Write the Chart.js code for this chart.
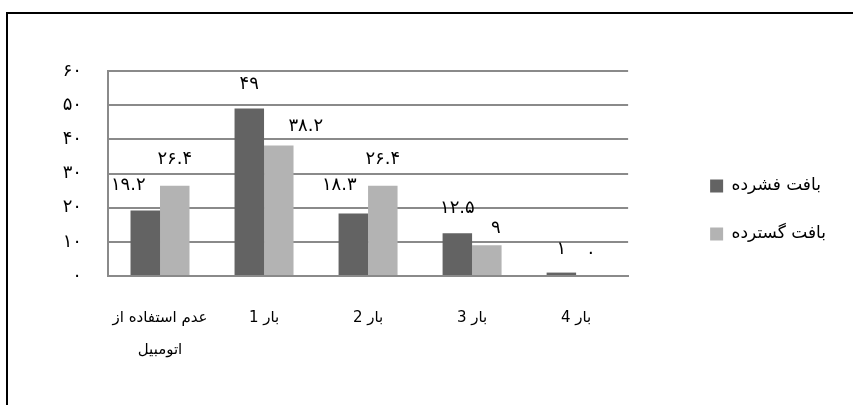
<!DOCTYPE html>
<html>
<head>
<meta charset="utf-8">
<script src="https://cdn.jsdelivr.net/npm/chart.js@4/dist/chart.umd.min.js"></script>
<style>
  html, body { margin: 0; padding: 0; background: #fff; }
  #wrap { position: relative; width: 853px; height: 405px; overflow: hidden; }
  #wrap canvas { position: absolute; left: 0; top: 0; }
  #frame {
    position: absolute; left: 6px; top: 12px; right: -4px; bottom: -4px;
    border-top: 2px solid #000; border-left: 2px solid #000;
    pointer-events: none;
  }
</style>
</head>
<body>
<div id="wrap">
  <canvas id="chart" width="853" height="405"></canvas>
  <div id="frame"></div>
</div>
<script>
// Trips by car per household, compact vs. dispersed urban fabric
const categories = [['عدم استفاده از', 'اتومبیل'], 'بار 1', 'بار 2', 'بار 3', 'بار 4'];
const seriesNames = ['بافت فشرده', 'بافت گسترده'];
const denseValues = [19.2, 49, 18.3, 12.5, 1];
const sparseValues = [26.4, 38.2, 26.4, 9, 0];
const yTickLabels = ['۰', '۱۰', '۲۰', '۳۰', '۴۰', '۵۰', '۶۰'];

const FONT = "'DejaVu Sans', sans-serif";
const GRID = '#8a8a8a';

// Western digits -> Persian digits
function toFa(v) {
  return String(v).replace(/\d/g, d => '۰۱۲۳۴۵۶۷۸۹'[d]);
}

// Value labels above each bar, with small per-bar nudges (dx, lift)
const valueLabels = {
  id: 'valueLabels',
  afterDatasetsDraw(chart, args, opts) {
    const ctx = chart.ctx;
    ctx.save();
    ctx.font = opts.font;
    ctx.fillStyle = opts.color;
    ctx.textAlign = 'center';
    ctx.textBaseline = 'middle';
    chart.data.datasets.forEach((ds, di) => {
      const meta = chart.getDatasetMeta(di);
      meta.data.forEach((bar, i) => {
        const dx = opts.dx[di][i];
        const lift = opts.lift[di][i];
        ctx.fillText(toFa(ds.data[i]), bar.x + dx, bar.y - lift);
      });
    });
    ctx.restore();
  }
};

// Empty layout band used only to reserve space
function band(position, size, weight) {
  return {
    type: 'linear',
    position,
    weight,
    display: true,
    grid: { display: false, drawTicks: false },
    ticks: { display: false },
    border: { display: false },
    afterFit(scale) {
      if (position === 'top' || position === 'bottom') scale.height = size;
      else scale.width = size;
    }
  };
}

new Chart(document.getElementById('chart'), {
  type: 'bar',
  data: {
    labels: categories,
    datasets: [
      {
        label: seriesNames[0],
        data: denseValues,
        backgroundColor: '#636363',
        borderWidth: 0,
        categoryPercentage: 0.567,
        barPercentage: 1
      },
      {
        label: seriesNames[1],
        data: sparseValues,
        backgroundColor: '#b3b3b3',
        borderWidth: 0,
        categoryPercentage: 0.567,
        barPercentage: 1
      }
    ]
  },
  plugins: [valueLabels],
  options: {
    responsive: false,
    animation: false,
    devicePixelRatio: 1,
    layout: { padding: { left: 0, top: 15, right: 0, bottom: 0 } },
    plugins: {
      legend: {
        position: 'right',
        maxWidth: 200,
        labels: {
          boxWidth: 13,
          boxHeight: 13,
          padding: 31,
          color: '#000',
          font: { family: FONT, size: 17 }
        }
      },
      tooltip: { enabled: false },
      valueLabels: {
        font: "18px " + FONT,
        color: '#000',
        dx:   [[-17, 0, -14, 0, 0], [0, 27, 0, 9, 0]],
        lift: [[25, 24, 28, 25, 23], [26, 19, 26, 17, 23]]
      }
    },
    scales: {
      x: {
        grid: { display: false, drawTicks: false },
        border: { display: true, color: GRID, width: 2 },
        ticks: {
          color: '#000',
          font: { family: FONT, size: 15, lineHeight: 2.13 },
          padding: 26,
          maxRotation: 0,
          autoSkip: false
        },
        afterFit(scale) { scale.height = 129; }
      },
      y: {
        min: 0,
        max: 60,
        ticks: {
          stepSize: 10,
          padding: 26,
          color: '#000',
          font: { family: FONT, size: 18 },
          callback: (value, index) => yTickLabels[index]
        },
        grid: { color: GRID, lineWidth: 2, drawTicks: false },
        border: { display: true, color: GRID, width: 2 },
        afterFit(scale) { scale.width = 108; }
      },
      topBand: band('top', 56, 0),
      gapBand: band('right', 51, 0),
      edgeBand: band('right', 17, 2000)
    }
  }
});
</script>
</body>
</html>
